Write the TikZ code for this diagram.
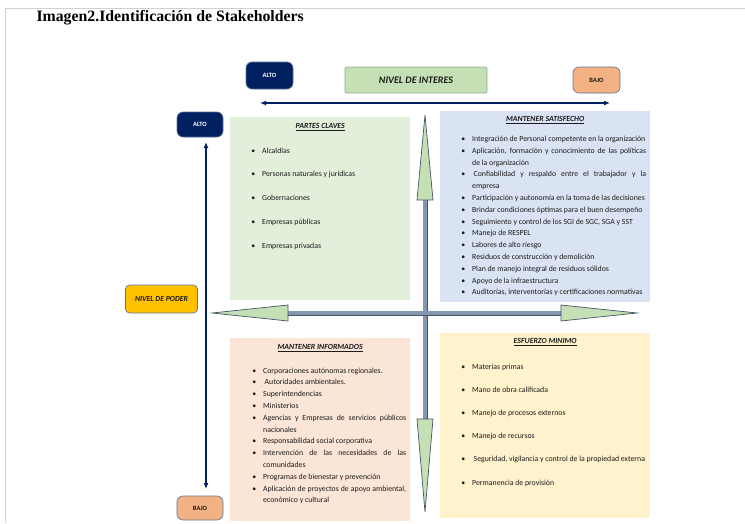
\documentclass[tikz,border=0pt]{standalone}
\usepackage{fontspec}
\setmainfont{Carlito}
\newfontfamily\titlefont{Liberation Serif}
\usepackage{enumitem}
\usetikzlibrary{arrows.meta}

\definecolor{navy}{HTML}{002060}
\definecolor{edge}{HTML}{5B7397}
\definecolor{interes}{HTML}{C5E0B4}
\definecolor{interesedge}{HTML}{8FB08A}
\definecolor{bajo}{HTML}{F4B183}
\definecolor{poder}{HTML}{FFC000}
\definecolor{qgreen}{HTML}{E2EFDA}
\definecolor{qblue}{HTML}{DAE3F3}
\definecolor{qpeach}{HTML}{FBE5D6}
\definecolor{qyellow}{HTML}{FFF2CC}
\definecolor{shaft}{HTML}{8497B0}
\definecolor{shaftedge}{HTML}{44546A}
\definecolor{txt}{HTML}{1A1A1A}

% bullet list used in the four quadrants
\newenvironment{shlist}[2]{%
  \begin{itemize}[label=\textbullet,leftmargin=#1,labelsep=7pt,itemsep=#2,
    topsep=0pt,partopsep=0pt,parsep=0pt]}{\end{itemize}}

\begin{document}
\begin{tikzpicture}[x=1pt,y=-1pt,
    pill/.style={draw=edge,line width=0.6pt,rounded corners=6pt,inner sep=0pt,
      font=\bfseries\fontsize{6.5}{7}\selectfont},
    quad/.style={anchor=north west,inner sep=0pt},
    head/.style={font=\bfseries\itshape\fontsize{7.8}{8}\selectfont,text=txt},
    lst/.style={anchor=north west,inner sep=0pt,align=justify,text=txt,
      font=\fontsize{7.8}{11.8}\selectfont},
    navyarrow/.style={navy,line width=1.8pt,{Latex[length=6pt,width=5pt]}-{Latex[length=6pt,width=5pt]}},
    tipfill/.style={fill=interes,draw=shaftedge,line width=0.7pt,line join=miter}]
    % Parameters
    \def\headLen{76} % length of the green arrow heads
    \def\headHalf{8} % half width of the green arrow heads

    \useasboundingbox (0,0) rectangle (745,523);
    \draw[black!18,line width=0.8pt] (5,523) -- (5,8) -- (745,8);

    \node[anchor=west,font=\titlefont\bfseries\fontsize{15.8}{17}\selectfont] (title)
      at (33,18) {Imagen2.Identificación de Stakeholders};

    % Level labels
    \node[pill,fill=navy,text=white,minimum width=47pt,minimum height=27pt] (altoI) at (269.5,75.5) {ALTO};
    \node[draw=interesedge,fill=interes,line width=0.7pt,rounded corners=2pt,minimum width=142pt,
      minimum height=26pt,inner sep=0pt,font=\bfseries\itshape\fontsize{10}{11}\selectfont,text=txt]
      (interes) at (416,80) {NIVEL DE INTERES};
    \node[pill,fill=bajo,text=txt,minimum width=47pt,minimum height=26pt] (bajoI) at (596.5,80) {BAJO};
    \node[pill,fill=navy,text=white,minimum width=46pt,minimum height=25pt] (altoP) at (200,124.5) {ALTO};
    \node[pill,fill=bajo,text=txt,minimum width=46pt,minimum height=24pt] (bajoP) at (200,508) {BAJO};
    \node[pill,fill=poder,text=txt,minimum width=72pt,minimum height=28pt,rounded corners=4pt,
      font=\bfseries\itshape\fontsize{7.7}{8}\selectfont] (poder) at (161.5,299) {NIVEL DE PODER};

    % Navy axes
    \coordinate (intL) at (260,103);
    \coordinate (intR) at (610,103);
    \coordinate (podT) at (206,142);
    \coordinate (podB) at (206,489);
    \draw[navyarrow] (intL) -- (intR);
    \draw[navyarrow] (podT) -- (podB);

    % Quadrants
    \node[quad,fill=qgreen,minimum width=180pt,minimum height=183pt] (clave) at (230,117) {};
    \node[quad,fill=qblue,minimum width=210pt,minimum height=191pt] (satis) at (440,111) {};
    \node[quad,fill=qpeach,minimum width=180pt,minimum height=183pt] (inform) at (230,338) {};
    \node[quad,fill=qyellow,minimum width=210pt,minimum height=185pt] (minimo) at (440,333) {};

    \node[head] (claveT) at ([yshift=-10pt]clave.north) {\underline{PARTES CLAVES}};
    \node[head] (satisT) at ([yshift=-9pt]satis.north) {\underline{MANTENER SATISFECHO}};
    \node[head] (informT) at ([yshift=-10pt]inform.north) {\underline{MANTENER INFORMADOS}};
    \node[head] (minimoT) at ([yshift=-9pt]minimo.north) {\underline{ESFUERZO MINIMO}};

    \node[lst,text width=155pt] (claveL) at (250,141) {%
      \begin{shlist}{12pt}{12pt}
        \item Alcaldías
        \item Personas naturales y jurídicas
        \item Gobernaciones
        \item Empresas públicas
        \item Empresas privadas
      \end{shlist}};
    \node[lst,text width=188pt] (satisL) at (458,129.5) {%
      \begin{shlist}{14pt}{0pt}
        \item Integración de Personal competente en la organización
        \item Aplicación, formación y conocimiento de las políticas\linebreak de la organización
        \item \hspace{1.5pt}Confiabilidad y respaldo entre el trabajador y la\linebreak empresa
        \item Participación y autonomía en la toma de las decisiones
        \item Brindar condiciones óptimas para el buen desempeño
        \item Seguimiento y control de los SGI de SGC, SGA y SST
        \item Manejo de RESPEL
        \item Labores de alto riesgo
        \item Residuos de construcción y demolición
        \item Plan de manejo integral de residuos sólidos
        \item Apoyo de la infraestructura
        \item Auditorías, interventorías y certificaciones normativas
      \end{shlist}};
    \node[lst,text width=156pt] (informL) at (250,361) {%
      \begin{shlist}{13pt}{0pt}
        \item Corporaciones autónomas regionales.
        \item \hspace{1.5pt}Autoridades ambientales.
        \item Superintendencias
        \item Ministerios
        \item Agencias y Empresas de servicios públicos\linebreak nacionales
        \item Responsabilidad social corporativa
        \item Intervención de las necesidades de las\linebreak comunidades
        \item Programas de bienestar y prevención
        \item Aplicación de proyectos de apoyo ambiental,\linebreak económico y cultural
      \end{shlist}};
    \node[lst,text width=190pt] (minimoL) at (458,357) {%
      \begin{shlist}{14pt}{11.4pt}
        \item Materias primas
        \item Mano de obra calificada
        \item Manejo de procesos externos
        \item Manejo de recursos
        \item \hspace{1.5pt}Seguridad, vigilancia y control de la propiedad externa
        \item Permanencia de provisión
      \end{shlist}};

    % Green cross arrow
    \coordinate (wtip) at (212,313);
    \coordinate (etip) at (637,313);
    \coordinate (ntip) at (425,115);
    \coordinate (stip) at (425,512);
    \draw[shaftedge,line width=5pt,shorten <=60pt,shorten >=60pt] (ntip) -- (stip);
    \draw[shaft,line width=3.4pt,shorten <=60pt,shorten >=60pt] (ntip) -- (stip);
    \draw[shaftedge,line width=5pt,shorten <=60pt,shorten >=60pt] (wtip) -- (etip);
    \draw[shaft,line width=3.4pt,shorten <=60pt,shorten >=60pt] (wtip) -- (etip);
    \draw[tipfill] (wtip) -- ++(\headLen,-\headHalf) -- ++(0,2*\headHalf) -- cycle;
    \draw[tipfill] (etip) -- ++(-\headLen,-\headHalf) -- ++(0,2*\headHalf) -- cycle;
    \draw[tipfill] (ntip) -- ++(-\headHalf,\headLen+9) -- ++(2*\headHalf,0) -- cycle;
    \draw[tipfill] (stip) -- ++(-\headHalf,-\headLen-17) -- ++(2*\headHalf,0) -- cycle;
\end{tikzpicture}
\end{document}
